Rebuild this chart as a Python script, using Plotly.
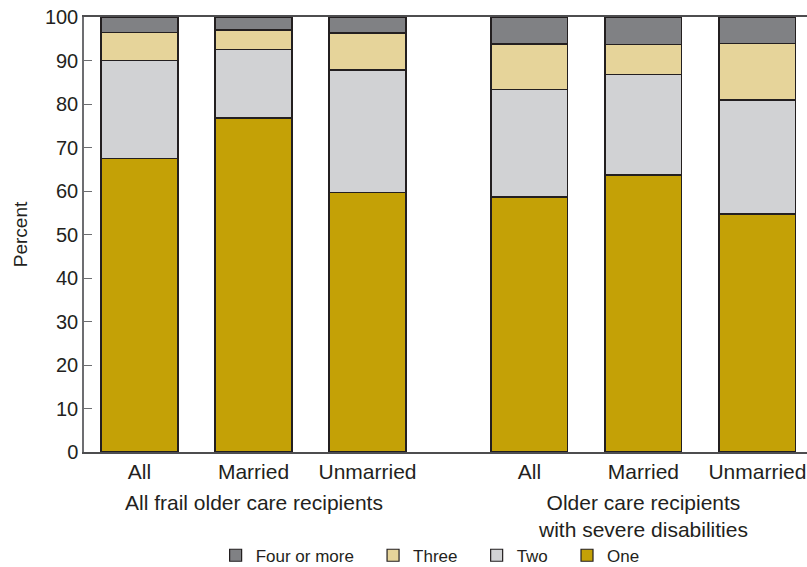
import plotly.graph_objects as go

# ---- data (percent of care recipients by number of helpers) ----
categories = ["All", "Married", "Unmarried", "All", "Married", "Unmarried"]
positions = [0, 1, 2, 3.42, 4.42, 5.42]
one = [67.5, 76.8, 59.7, 58.6, 63.7, 54.7]
two = [22.5, 15.8, 28.1, 24.8, 23.0, 26.2]
three = [6.5, 4.4, 8.5, 10.4, 6.9, 13.1]
four_plus = [3.5, 3.0, 3.7, 6.2, 6.4, 6.0]
group_labels = ["All frail older care recipients",
                "Older care recipients<br>with severe disabilities"]
y_ticks = list(range(0, 101, 10))

FONT = "Liberation Sans, Arial, sans-serif"
TXT = "#231F20"
PAD = "\u00a0" * 3  # extra room between legend entries
series = [
    ("One", one, "#C4A106", ""),
    ("Two", two, "#D1D2D4", PAD),
    ("Three", three, "#E6D49A", PAD),
    ("Four or more", four_plus, "#808184", PAD),
]

fig = go.Figure()
for name, vals, color, pad in series:
    fig.add_trace(go.Bar(
        x=positions, y=vals, name=name + pad, width=0.675,
        marker=dict(color=color, line=dict(color=TXT, width=1.2)),
    ))

# group captions under the category labels
fig.add_annotation(x=1, y=-0.085, xref="x", yref="paper", text=group_labels[0],
                   showarrow=False, yanchor="top", font=dict(size=21, color=TXT))
fig.add_annotation(x=4.42, y=-0.085, xref="x", yref="paper", text=group_labels[1],
                   showarrow=False, yanchor="top", font=dict(size=21, color=TXT))

fig.update_layout(
    barmode="stack",
    width=807, height=567,
    margin=dict(l=84, r=0, t=17, b=115, autoexpand=False),
    plot_bgcolor="white", paper_bgcolor="white",
    font=dict(family=FONT, size=20, color=TXT),
    showlegend=True,
    legend=dict(orientation="h", traceorder="reversed",
                xref="container", x=0.533, xanchor="center",
                yref="paper", y=-0.197, yanchor="top",
                font=dict(size=17), itemwidth=30),
)
fig.update_xaxes(
    range=[-0.487, 5.855],
    tickmode="array", tickvals=positions, ticktext=categories,
    showline=True, linecolor="#4D4D4F", linewidth=1.5, mirror=True,
    ticks="", showgrid=False, zeroline=False,
    tickfont=dict(size=21), automargin=False,
)
fig.update_yaxes(
    range=[0, 100], tickvals=y_ticks,
    showline=True, linecolor="#6D6E71", linewidth=1.5,
    ticks="inside", ticklen=8, tickcolor="#6D6E71",
    showgrid=False, zeroline=False,
    title=dict(text="Percent", font=dict(size=19), standoff=12),
    tickfont=dict(size=20), automargin=False,
)

# page body has a default margin; drop it so the figure sits at the window corner
fig.write_html("out.html", config={"displayModeBar": False},
               post_script="document.body.style.margin='0px';")
